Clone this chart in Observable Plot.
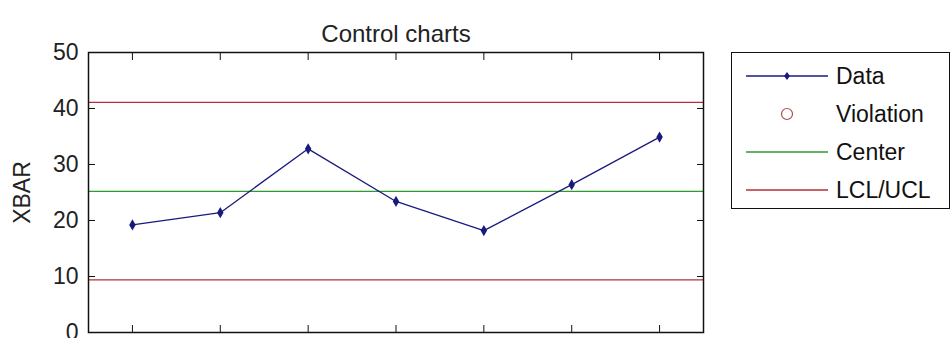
<!DOCTYPE html>
<html>
<head>
<meta charset="utf-8">
<script src="https://cdn.jsdelivr.net/npm/d3@7"></script>
<script src="https://cdn.jsdelivr.net/npm/@observablehq/plot@0.6"></script>
<style>
  html, body { margin: 0; padding: 0; background: #fff; }
  #wrap { position: relative; width: 951px; height: 338px; overflow: hidden; font-family: "Liberation Sans", Arial, sans-serif; }
  #legend { position: absolute; left: 731px; top: 52px; width: 217px; height: 155px; border: 1.5px solid #111; background: #fff; }
  #legend .row { position: absolute; left: 0; height: 38px; display: flex; align-items: center; }
  #legend .row svg { display: block; }
  #legend .row span { font-size: 23px; color: #111; margin-left: 8px; }
</style>
</head>
<body>
<div id="wrap"></div>
<script>
// Subgroup means (XBAR) and their control limits
const sample = [1, 2, 3, 4, 5, 6, 7];
const xbar = [19.2, 21.4, 32.8, 23.4, 18.2, 26.4, 34.9];
const center = 25.2;
const lcl = 9.4;
const ucl = 41.1;
const yTicks = [0, 10, 20, 30, 40, 50];

const dataColor = "#1a1a7e";
const centerColor = "#2f9a2f";
const limitColor = "#b0303a";
const violationColor = "#a85050";

const points = sample.map((s, i) => ({sample: s, value: xbar[i]}));

const chart = Plot.plot({
  width: 951,
  height: 338,
  marginLeft: 88,
  marginRight: 248,
  marginTop: 52,
  marginBottom: 6,
  style: {fontFamily: "Liberation Sans, Arial, sans-serif", fontSize: "23px", color: "#222", background: "transparent", overflow: "hidden"},
  x: {domain: [0.5, 7.5]},
  y: {domain: [0, 50]},
  marks: [
    Plot.ruleY([ucl, lcl], {stroke: limitColor, strokeWidth: 1.3}),
    Plot.ruleY([center], {stroke: centerColor, strokeWidth: 1.3}),
    Plot.line(points, {x: "sample", y: "value", stroke: dataColor, strokeWidth: 1.3}),
    Plot.dot(points, {x: "sample", y: "value", symbol: "diamond", r: 3.4, fill: dataColor}),
    Plot.frame({stroke: "#111", strokeWidth: 1.5}),
    Plot.axisY(yTicks, {anchor: "left", tickSize: -7, tickPadding: 17, label: null, stroke: "#111"}),
    Plot.axisY(yTicks, {anchor: "right", tickSize: -7, tickFormat: () => "", label: null, stroke: "#111"}),
    Plot.axisX(sample, {anchor: "top", tickSize: -7, tickFormat: () => "", label: null, stroke: "#111"}),
    Plot.axisX(sample, {anchor: "bottom", tickSize: -7, tickFormat: () => "", label: null, stroke: "#111"}),
    Plot.text(["XBAR"], {frameAnchor: "left", textAnchor: "middle", rotate: -90, dx: -66, fontSize: 23, fill: "#222"}),
    Plot.text(["Control charts"], {frameAnchor: "top", dy: -28, fontSize: 24, fill: "#222", letterSpacing: 0.5})
  ]
});
document.getElementById("wrap").appendChild(chart);

// Legend box on the right of the frame
const legendItems = [
  {name: "Data", kind: "data"},
  {name: "Violation", kind: "violation"},
  {name: "Center", kind: "center"},
  {name: "LCL/UCL", kind: "limit"}
];
const legend = document.createElement("div");
legend.id = "legend";
legendItems.forEach((item, i) => {
  const row = document.createElement("div");
  row.className = "row";
  row.style.top = (4 + i * 38) + "px";
  row.style.left = "14px";
  const ns = "http://www.w3.org/2000/svg";
  const svg = document.createElementNS(ns, "svg");
  svg.setAttribute("width", 82);
  svg.setAttribute("height", 38);
  if (item.kind !== "violation") {
    const line = document.createElementNS(ns, "line");
    line.setAttribute("x1", 0); line.setAttribute("x2", 82);
    line.setAttribute("y1", 19); line.setAttribute("y2", 19);
    line.setAttribute("stroke", item.kind === "data" ? dataColor : item.kind === "center" ? centerColor : limitColor);
    line.setAttribute("stroke-width", 1.3);
    svg.appendChild(line);
  }
  if (item.kind === "data") {
    const d = document.createElementNS(ns, "path");
    d.setAttribute("d", "M41,15L44,19L41,23L38,19Z");
    d.setAttribute("fill", dataColor);
    svg.appendChild(d);
  }
  if (item.kind === "violation") {
    const c = document.createElementNS(ns, "circle");
    c.setAttribute("cx", 41); c.setAttribute("cy", 19); c.setAttribute("r", 5.5);
    c.setAttribute("fill", "none");
    c.setAttribute("stroke", violationColor);
    c.setAttribute("stroke-width", 1.2);
    svg.appendChild(c);
  }
  row.appendChild(svg);
  const label = document.createElement("span");
  label.textContent = item.name;
  row.appendChild(label);
  legend.appendChild(row);
});
document.getElementById("wrap").appendChild(legend);
</script>
</body>
</html>
